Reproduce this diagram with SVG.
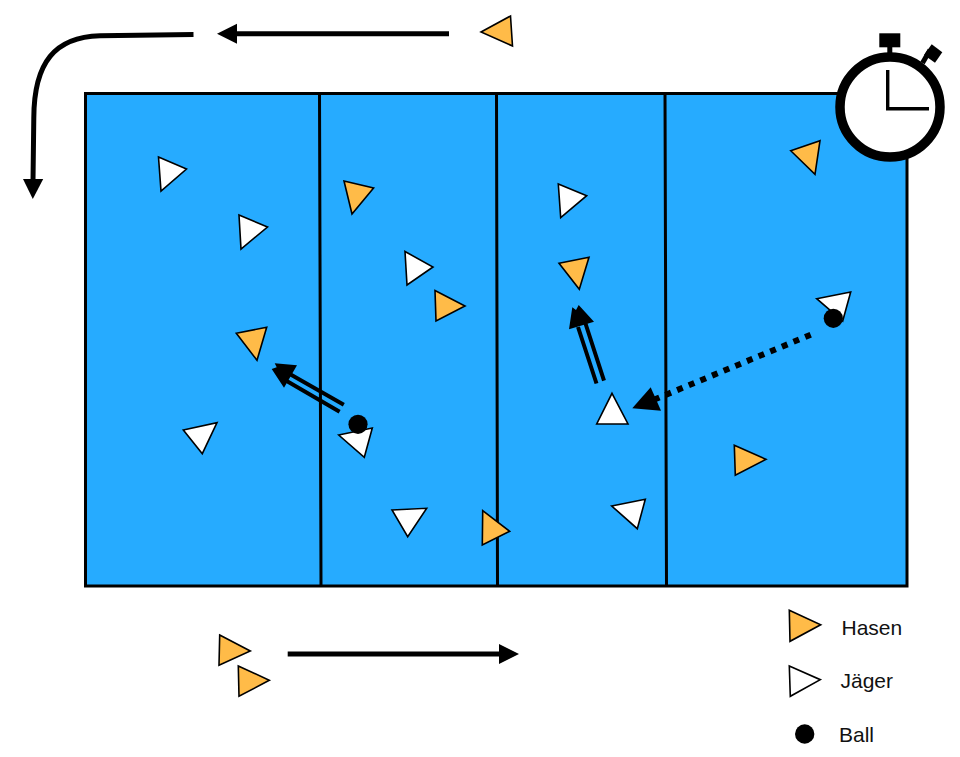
<svg xmlns="http://www.w3.org/2000/svg" width="960" height="757" viewBox="0 0 960 757">
<style>
.h{fill:#ffbb48;stroke:#000;stroke-width:1.6;stroke-linejoin:miter}
.j{fill:#fff;stroke:#000;stroke-width:1.6;stroke-linejoin:miter}
.b{fill:#000}
.l{fill:none;stroke:#000;stroke-width:3}
.a{fill:none;stroke:#000;stroke-width:5}
.d{fill:none;stroke:#000;stroke-width:4}
.t{font-family:"Liberation Sans",Arial,sans-serif;font-size:21px;fill:#111}
</style>
<g id="field">
<rect x="85.5" y="93.5" width="821.5" height="492.5" fill="#26abff" stroke="#000" stroke-width="3"/>
<path class="l" d="M319.5 93.5L321 586M496.5 93.5L497.5 586M665 93.500L666.500 586"/>
</g>
<g id="connectors">
<path class="a" d="M449 33.700H235"/>
<polygon class="b" points="217,33.700 237,23.700 237,43.700"/>
<path class="a" d="M193.500 34.500L100 35.700C55 37 34 62 33.800 118L33 181"/>
<polygon class="b" points="23,179 43.200,179 32.800,199"/>
<path class="a" d="M287.700 654H501"/>
<polygon class="b" points="499,644 519,654 499,664"/>
<path class="d" d="M343.800 404.800L288 373M339.600 411.700L285 380"/>
<polygon class="b" points="271.700,369 276.700,367.300 274.700,363.300 297,365.300 284,387.700"/>
<path class="d" d="M604 380.700L585 322M596.500 383.500L578 327"/>
<polygon class="b" points="572.300,307.300 576,310 578.700,305 594,321.700 569,329.300"/>
<path fill="none" stroke="#000" stroke-width="6" stroke-dasharray="6 6.600" d="M810.700 334.700L655 399.300"/>
<polygon class="b" points="632.300,408.300 650.700,387.300 661,410.700"/>
</g>
<g id="hase-1"><polygon class="h" points="481,32 510.500,16 512.500,46"/></g>
<g id="jaeger-1"><polygon class="j" points="158.500,157 186.500,169 161,191"/></g>
<g id="jaeger-2"><polygon class="j" points="239,215 267.500,227 241,249"/></g>
<g id="hase-2"><polygon class="h" points="344,181 373.600,188 352,214"/></g>
<g id="jaeger-3"><polygon class="j" points="405,251.500 433,267 407,285"/></g>
<g id="hase-3"><polygon class="h" points="435,290.500 465,306 436,321"/></g>
<g id="jaeger-4"><polygon class="j" points="558.300,184 586.700,195.700 560.700,217.700"/></g>
<g id="hase-4"><polygon class="h" points="559,263.300 589,257.300 579.300,289.300"/></g>
<g id="hase-5"><polygon class="h" points="236.300,333.300 266.700,327.300 257,360.300"/></g>
<g id="jaeger-5"><polygon class="j" points="183.300,430 217,422.700 202.300,453.700"/></g>
<g id="jaeger-6"><polygon class="j" points="338.700,435 372.300,428 364.300,457.300"/></g>
<g id="ball-1"><circle class="b" cx="358" cy="424.300" r="9.600"/></g>
<g id="jaeger-7"><polygon class="j" points="392,510 426.700,508.300 407.700,536.700"/></g>
<g id="hase-6"><polygon class="h" points="482.700,510.700 509.700,531.300 482.300,545"/></g>
<g id="jaeger-8"><polygon class="j" points="612,393.300 628,424 596.700,424"/></g>
<g id="jaeger-9"><polygon class="j" points="611.700,506 645.300,499.300 637.300,528.700"/></g>
<g id="jaeger-10"><polygon class="j" points="816.700,298.700 850.700,292 842.700,321"/></g>
<g id="ball-2"><circle class="b" cx="833.300" cy="318.300" r="9.600"/></g>
<g id="hase-7"><polygon class="h" points="734.300,445.300 766,459.300 735.300,475.300"/></g>
<g id="hase-8"><polygon class="h" points="790.700,150.700 820,140.700 815,174.300"/></g>
<g id="stopwatch">
<rect x="879.300" y="33.300" width="21" height="14" fill="#000"/>
<rect x="887.300" y="46" width="5" height="10" fill="#000"/>
<path d="M922.500 63L930 50" stroke="#000" stroke-width="5" fill="none"/>
<polygon class="b" points="931.700,44.300 942.300,52.300 935,62.700 924,55"/>
<circle cx="890" cy="107" r="50" fill="#fff" stroke="#000" stroke-width="9.500"/>
<path d="M887.700 70V108.700H929" fill="none" stroke="#000" stroke-width="3.400"/>
</g>
<g id="hase-9"><polygon class="h" points="219.700,635 250.300,651 219,665.300"/></g>
<g id="hase-10"><polygon class="h" points="238.300,666 269.300,680.300 239,696.300"/></g>
<g id="legend-hasen"><polygon class="h" points="789.300,610.300 820.700,624.700 790,641.300"/><text class="t" x="841.500" y="634.700">Hasen</text></g>
<g id="legend-jaeger"><polygon class="j" points="789.300,666 820.300,679.700 790.300,696.300"/><text class="t" x="840.500" y="688">Jäger</text></g>
<g id="legend-ball"><circle class="b" cx="804.700" cy="734" r="9.700"/><text class="t" x="839" y="741.700">Ball</text></g>
</svg>
